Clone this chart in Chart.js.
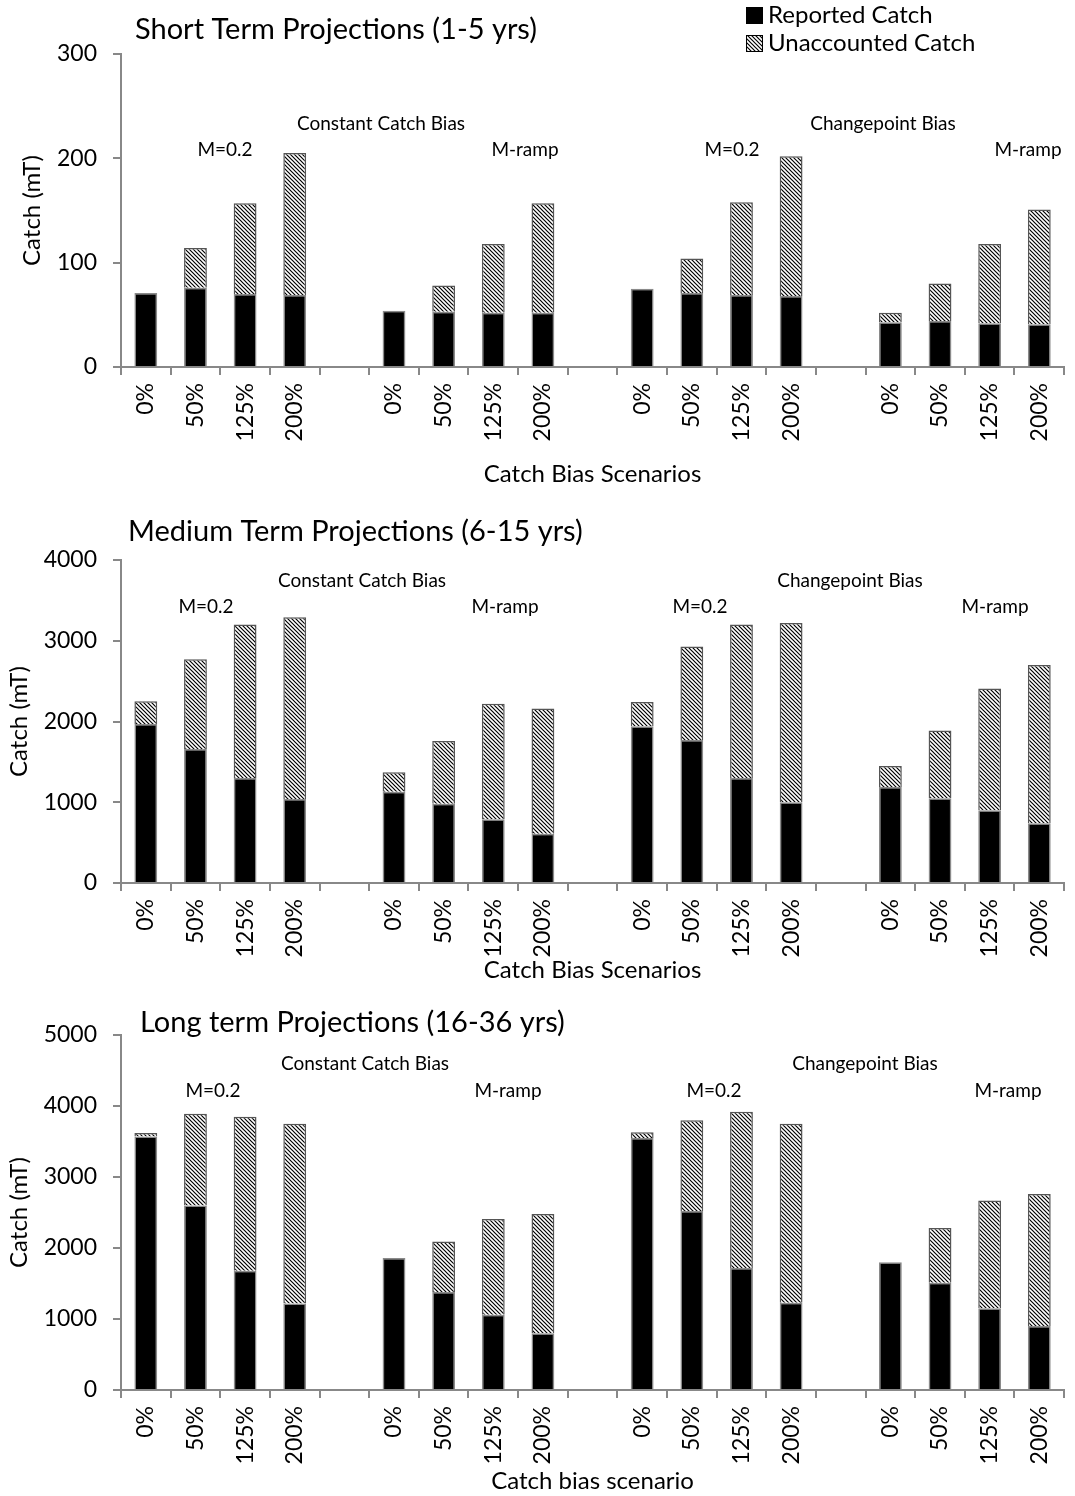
<!DOCTYPE html>
<html>
<head>
<meta charset="utf-8">
<script src="https://cdn.jsdelivr.net/npm/chart.js@4/dist/chart.umd.min.js"></script>
<style>
  body { margin: 0; background: #fff; }
  .box { position: absolute; left: 0; width: 1075px; }
</style>
</head>
<body>
<div class="box" style="top:0;height:500px"><canvas id="c1"></canvas></div>
<div class="box" style="top:495px;height:495px"><canvas id="c2"></canvas></div>
<div class="box" style="top:990px;height:506px"><canvas id="c3"></canvas></div>
<script>
// scenario labels, blank slots separate the four groups
const labels = ['0%', '50%', '125%', '200%', '', '0%', '50%', '125%', '200%', '',
                '0%', '50%', '125%', '200%', '', '0%', '50%', '125%', '200%'];

// short term (1-5 yrs)
const shortReported    = [71, 76, 70, 69, null, 54, 53, 52, 52, null, 75, 71, 69, 68, null, 43, 44, 42, 41];
const shortUnaccounted = [0, 38, 87, 136, null, 0, 25, 66, 105, null, 0, 33, 89, 134, null, 9, 36, 76, 110];

// medium term (6-15 yrs)
const medReported    = [1970, 1660, 1300, 1040, null, 1130, 980, 790, 610, null, 1940, 1770, 1300, 1000, null, 1190, 1050, 900, 740];
const medUnaccounted = [280, 1110, 1900, 2250, null, 240, 780, 1430, 1550, null, 300, 1160, 1900, 2220, null, 260, 840, 1510, 1960];

// long term (16-36 yrs)
const longReported    = [3570, 2600, 1680, 1220, null, 1860, 1380, 1060, 800, null, 3550, 2520, 1720, 1230, null, 1800, 1510, 1150, 900];
const longUnaccounted = [50, 1290, 2170, 2530, null, 0, 710, 1350, 1680, null, 80, 1280, 2200, 2520, null, 0, 770, 1520, 1860];

const FONT = 'Lato';

// diagonal hatch used for unaccounted catch
function makeHatch() {
    const c = document.createElement('canvas');
    c.width = 4; c.height = 4;
    const g = c.getContext('2d');
    g.fillStyle = '#fff';
    g.fillRect(0, 0, 4, 4);
    g.strokeStyle = '#000';
    g.lineWidth = 1.2;
    g.beginPath();
    g.moveTo(-1, -1); g.lineTo(5, 5);
    g.moveTo(-1, 3); g.lineTo(1, 5);
    g.moveTo(3, -1); g.lineTo(5, 1);
    g.stroke();
    return g.createPattern(c, 'repeat');
}
const hatch = makeHatch();

// titles, group notes and (first chart) legend
const notesPlugin = {
    id: 'notes',
    afterDraw(chart, args, opts) {
        const ctx = chart.ctx;
        ctx.save();
        ctx.fillStyle = '#000';
        ctx.textBaseline = 'middle';
        ctx.textAlign = 'left';
        ctx.font = '29px ' + FONT;
        ctx.fillText(opts.title, opts.titleX, opts.titleY);
        ctx.font = '19px ' + FONT;
        ctx.textAlign = 'center';
        opts.notes.forEach(n => ctx.fillText(n[0], n[1], n[2]));
        if (opts.legend) {
            ctx.textAlign = 'left';
            ctx.font = '24px ' + FONT;
            ctx.fillStyle = '#000';
            ctx.fillRect(746, 7, 17, 17);
            ctx.fillText('Reported Catch', 768, 15);
            ctx.fillStyle = hatch;
            ctx.fillRect(746, 35, 17, 17);
            ctx.strokeStyle = '#000';
            ctx.lineWidth = 1;
            ctx.strokeRect(746.5, 35.5, 16, 16);
            ctx.fillStyle = '#000';
            ctx.fillText('Unaccounted Catch', 768, 43);
        }
        ctx.restore();
    }
};

function makeChart(id, reported, unaccounted, yMax, xTitle, pad, yTitlePad, xTitlePad, note) {
    return new Chart(document.getElementById(id), {
        type: 'bar',
        data: {
            labels: labels,
            datasets: [{
                label: 'Reported Catch',
                data: reported,
                backgroundColor: '#000',
                borderColor: '#8a8a8a',
                borderWidth: 1.5,
                barPercentage: 0.46,
                categoryPercentage: 1
            }, {
                label: 'Unaccounted Catch',
                data: unaccounted,
                backgroundColor: hatch,
                borderColor: '#555',
                borderWidth: 1.5,
                barPercentage: 0.46,
                categoryPercentage: 1
            }]
        },
        options: {
            responsive: true,
            maintainAspectRatio: false,
            animation: false,
            layout: { padding: { top: pad.top, right: 4, bottom: 0, left: 0 } },
            plugins: {
                legend: { display: false },
                tooltip: { enabled: false },
                notes: note
            },
            scales: {
                x: {
                    stacked: true,
                    grid: { drawOnChartArea: false, tickLength: 8, color: '#888', lineWidth: 2 },
                    border: { color: '#888', width: 2 },
                    ticks: { color: '#000', font: { family: FONT, size: 23 }, maxRotation: 90, minRotation: 90, padding: 8, autoSkip: false },
                    title: { display: true, text: xTitle, color: '#000', font: { family: FONT, size: 24 }, padding: { top: 0, bottom: xTitlePad } },
                    afterFit(s) { s.height = pad.xh; }
                },
                y: {
                    stacked: true,
                    min: 0,
                    max: yMax,
                    ticks: {
                        stepSize: yMax === 300 ? 100 : 1000, color: '#000', font: { family: FONT, size: 23 }, padding: 16,
                        callback: v => String(v)
                    },
                    grid: { drawOnChartArea: false, tickLength: 8, color: '#888', lineWidth: 2 },
                    border: { color: '#888', width: 2 },
                    title: { display: true, text: 'Catch (mT)', color: '#000', font: { family: FONT, size: 24 }, padding: { top: yTitlePad, bottom: 0 } },
                    afterFit(s) { s.width = 121; }
                }
            }
        },
        plugins: [notesPlugin]
    });
}

makeChart('c1', shortReported, shortUnaccounted, 300, 'Catch Bias Scenarios',
    { top: 54, xh: 133 }, 18, 11, {
        title: 'Short Term Projections (1-5 yrs)', titleX: 135, titleY: 30, legend: true,
        notes: [['Constant Catch Bias', 381, 124], ['M=0.2', 225, 150], ['M-ramp', 525, 150],
                ['Changepoint Bias', 883, 124], ['M=0.2', 732, 150], ['M-ramp', 1028, 150]]
    });

makeChart('c2', medReported, medUnaccounted, 4000, 'Catch Bias Scenarios',
    { top: 65, xh: 107 }, 5, 5, {
        title: 'Medium Term Projections (6-15 yrs)', titleX: 128, titleY: 37, legend: false,
        notes: [['Constant Catch Bias', 362, 86], ['M=0.2', 206, 112], ['M-ramp', 505, 112],
                ['Changepoint Bias', 850, 86], ['M=0.2', 700, 112], ['M-ramp', 995, 112]]
    });

makeChart('c3', longReported, longUnaccounted, 5000, 'Catch bias scenario',
    { top: 45, xh: 106 }, 5, 0, {
        title: 'Long term Projections (16-36 yrs)', titleX: 140, titleY: 33, legend: false,
        notes: [['Constant Catch Bias', 365, 74], ['M=0.2', 213, 101], ['M-ramp', 508, 101],
                ['Changepoint Bias', 865, 74], ['M=0.2', 714, 101], ['M-ramp', 1008, 101]]
    });
</script>
</body>
</html>
